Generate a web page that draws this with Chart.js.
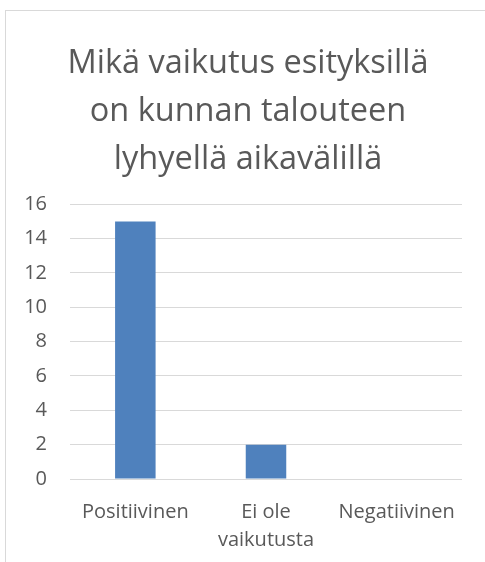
<!DOCTYPE html>
<html>
<head>
<meta charset="utf-8">
<script src="https://cdn.jsdelivr.net/npm/chart.js@4"></script>
<style>
  html, body { margin: 0; padding: 0; background: #fff; }
  #wrap { position: relative; width: 485px; height: 562px; overflow: hidden; }
  #frame { position: absolute; left: 5px; top: 10px; width: 500px; height: 600px;
           border-left: 1.5px solid #d9d9d9; border-top: 1.5px solid #d9d9d9; }
  canvas { position: absolute; left: 0; top: 0; }
</style>
</head>
<body>
<div id="wrap">
  <div id="frame"></div>
  <canvas id="chart" width="485" height="562"></canvas>
</div>
<script>
// data
var categories = ['Positiivinen', ['Ei ole', 'vaikutusta'], 'Negatiivinen'];
var answers = [15, 2, 0];
var titleLines = ['Mikä vaikutus esityksillä', 'on kunnan talouteen', 'lyhyellä aikavälillä'];
var yMin = 0, yMax = 16, yStep = 2;

var textColor = '#595959';

// title sits centred on the whole frame, not only on the plot
var shiftTitle = {
    id: 'shiftTitle',
    afterLayout: function (chart) {
        if (chart.titleBlock) { chart.titleBlock.left += 12; chart.titleBlock.right += 12; }
    }
};

new Chart(document.getElementById('chart'), {
    type: 'bar',
    data: {
        labels: categories,
        datasets: [{ data: answers, backgroundColor: '#4f81bd', borderWidth: 0,
                     barPercentage: 1, categoryPercentage: 0.31 }]
    },
    options: {
        responsive: false, animation: false,
        layout: { padding: { left: 10, right: 23, top: 0, bottom: 8 } },
        plugins: {
            legend: { display: false },
            tooltip: { enabled: false },
            title: {
                display: true, text: titleLines, color: textColor,
                font: { family: 'Open Sans', size: 32.5, weight: 'normal', lineHeight: 1.47 },
                padding: { top: 40, bottom: 21 }
            }
        },
        scales: {
            x: {
                grid: { display: false, drawTicks: false },
                border: { display: false },
                ticks: { color: textColor, padding: 19, maxRotation: 0,
                         font: { family: 'Open Sans', size: 20, lineHeight: 1.4 } },
                afterFit: function (scale) { scale.height = 75; }
            },
            y: {
                min: yMin, max: yMax,
                grid: { color: '#d9d9d9', lineWidth: 1, drawTicks: false },
                border: { display: false },
                ticks: { stepSize: yStep, color: textColor, padding: 23,
                         font: { family: 'Open Sans', size: 20 } },
                afterFit: function (scale) { scale.width = 60; }
            }
        }
    },
    plugins: [shiftTitle]
});
</script>
</body>
</html>
